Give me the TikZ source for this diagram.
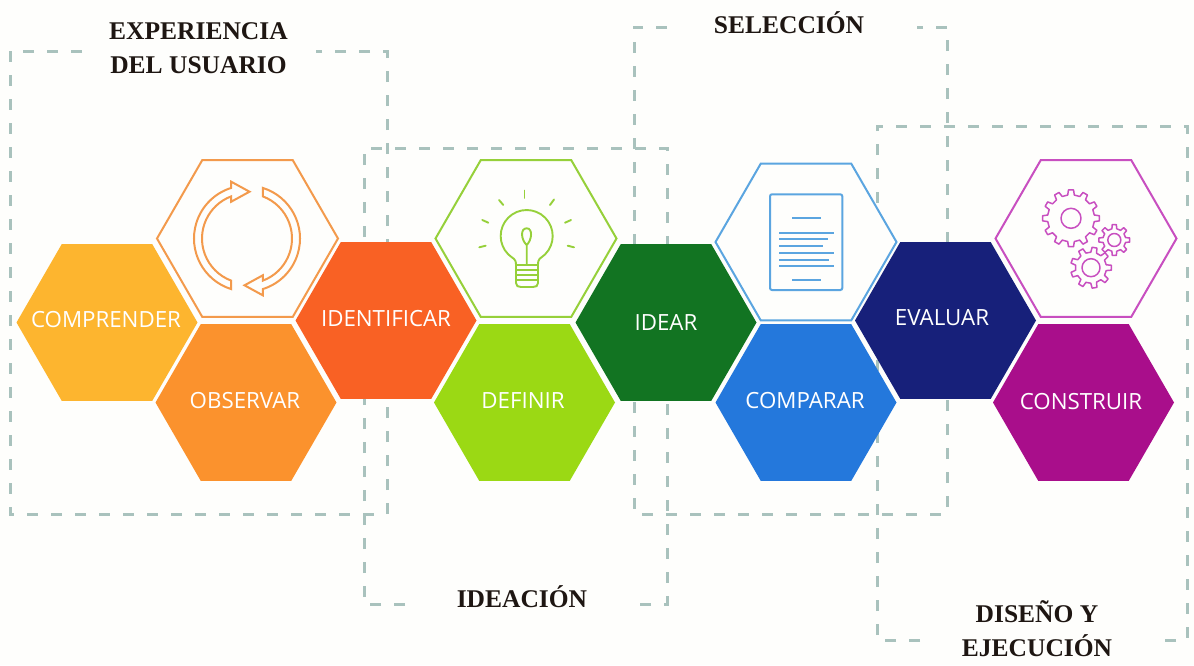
\documentclass[tikz,border=0pt]{standalone}
\usepackage{fontspec}
\setmainfont{Liberation Serif}
\newfontfamily\hexfont{Open Sans}
\usetikzlibrary{shapes.geometric}
\definecolor{paper}{HTML}{FEFEFC}
\definecolor{boxline}{HTML}{A9C2BD}
\definecolor{titleink}{HTML}{1E1612}
\definecolor{cComprender}{HTML}{FDB52F}
\definecolor{cObservar}{HTML}{FB922D}
\definecolor{cIdentificar}{HTML}{F96124}
\definecolor{cDefinir}{HTML}{9BD914}
\definecolor{cIdear}{HTML}{127422}
\definecolor{cComparar}{HTML}{2478DC}
\definecolor{cEvaluar}{HTML}{17207A}
\definecolor{cConstruir}{HTML}{A90E8B}
\definecolor{iOrange}{HTML}{F39A4C}
\definecolor{iGreen}{HTML}{96D03A}
\definecolor{iBlue}{HTML}{5BA5E0}
\definecolor{iMagenta}{HTML}{C84FC0}
\tikzset{
  hexa/.style={regular polygon,regular polygon sides=6,minimum size=181pt,inner sep=0pt,outer sep=0pt},
  hexicon/.style={hexa,draw=#1,fill=paper,line width=2pt},
  hextext/.style={text=white,font=\hexfont\fontsize{22.3}{25}\selectfont,inner sep=0pt},
  grouptext/.style={text=titleink,font=\bfseries\fontsize{25.5}{34}\selectfont,align=center,inner sep=0pt},
  groupbox/.style={boxline,line width=3pt,dash pattern=on 11pt off 13pt},
}
% one cog: centre, teeth, outer radius, root radius, hole radius
\newcommand{\cogwheel}[5]{%
  \pgfmathsetmacro{\cogstep}{360/#2}
  \draw[iMagenta,line width=1.5pt,line join=round,shift={#1}]
    ({-.27*\cogstep}:#4)
    \foreach \k in {0,...,#2}{
      -- ({\k*\cogstep-.27*\cogstep}:#4) -- ({\k*\cogstep-.17*\cogstep}:#3)
      -- ({\k*\cogstep+.17*\cogstep}:#3) -- ({\k*\cogstep+.27*\cogstep}:#4)
    } (0,0)circle(#5);
}
\begin{document}
\begin{tikzpicture}[x=1pt,y=1pt,yscale=-1]
\fill[paper](0,0)rectangle(1194,665);
\useasboundingbox(0,0)rectangle(1194,665);
% dashed groups
\draw[groupbox](82,51)--(10,51)--(10,514)--(387,514)--(387,51)--(316,51);
\draw[groupbox](405,604)--(364,604)--(364,148)--(667,148)--(667,604)--(640,604);
\draw[groupbox](667,27)--(634,27)--(634,514)--(947,514)--(947,27)--(917,27);
\draw[groupbox](920,640)--(877,640)--(877,126)--(1187,126)--(1187,640)--(1155,640);
% group titles
\node[grouptext](tExperiencia)at(198.5,48.5){EXPERIENCIA\\DEL USUARIO};
\node[grouptext](tSeleccion)at(789,23){SELECCIÓN};
\node[grouptext](tIdeacion)at(522,597){IDEACIÓN};
\node[grouptext](tDiseno)at(1037,629){DISEÑO Y\\EJECUCIÓN};
% icon hexagons
\node[hexicon=iOrange](hCycle)at(247.5,238.5){};
\node[hexicon=iGreen](hBulb)at(526,238.5){};
\node[hexicon=iBlue](hDoc)at(806,242){};
\node[hexicon=iMagenta](hGears)at(1086,238.5){};
% coloured hexagons
\node[hexa,fill=cComprender](hComprender)at(107,322.5){};
\node[hexa,fill=cObservar](hObservar)at(246,402.5){};
\node[hexa,fill=cIdentificar](hIdentificar)at(386,320.5){};
\node[hexa,fill=cDefinir](hDefinir)at(524.5,402.5){};
\node[hexa,fill=cIdear](hIdear)at(666,322.5){};
\node[hexa,fill=cComparar](hComparar)at(806,402.5){};
\node[hexa,fill=cEvaluar](hEvaluar)at(945.5,320.5){};
\node[hexa,fill=cConstruir](hConstruir)at(1083.5,402.5){};
\node[hextext](lComprender)at(106,319.5){COMPRENDER};
\node[hextext](lObservar)at(245,400.5){OBSERVAR};
\node[hextext](lIdentificar)at(386,319){IDENTIFICAR};
\node[hextext](lDefinir)at(523,400.5){DEFINIR};
\node[hextext](lIdear)at(666,322){IDEAR};
\node[hextext](lComparar)at(805,400.5){COMPARAR};
\node[hextext](lEvaluar)at(942,317.5){EVALUAR};
\node[hextext](lConstruir)at(1081,402){CONSTRUIR};
% cycle arrows
\foreach \turn in {0,180}{
  \draw[iOrange,line width=2pt,line join=miter,shift={(247,238.5)},rotate=\turn]
    (107.35:53)arc[start angle=107.35,end angle=252.65,radius=53]
    --(-15.8,-56.8)--(2.5,-46.8)--(-15.8,-36.8)--(249.4:45)
    arc[start angle=249.4,end angle=110.6,radius=45]--cycle;
}
% light bulb
\begin{scope}[iGreen,line width=1.9pt,line cap=round]
\draw(516,265)..controls(516,258)and(513,259)..(508.3,254.4)
  arc[start angle=135,end angle=405,radius=26]
  ..controls(540,259)and(538,258)..(538,265);
\draw(516,265)--(538,265);
\foreach \ly in {270,275,280}{\draw(516.5,\ly)--(537.5,\ly);}
\draw(516,265)--(516,283)..controls(516,286)and(518,287)..(521,287)--(533,287)
  ..controls(536,287)and(538,286)..(538,283)--(538,265);
\draw(526.7,265)--(526.7,245)..controls(521,240)and(520,228.3)..(526.7,228.3)
  ..controls(533,228.3)and(532,240)..(526.7,245);
\draw(524.5,190.5)--(524.5,198);
\draw(499,200)--(503.3,205);
\draw(554,199.5)--(550,205);
\draw(482.3,220)--(488.3,222.7);
\draw(571,220)--(565,222.7);
\draw(479.3,247.3)--(485.7,245.7);
\draw(574,247.3)--(567.7,245.7);
\end{scope}
% document
\draw[iBlue,line width=2pt,rounded corners=2pt](770,194.3)rectangle(842.3,290);
\foreach \ly/\lstart/\lend in {218.3/792.3/820.7,232.7/779/834,239/779/828.3,246/779/823.3,
  252.7/779/834,259.7/779/829.3,266/779/834,280/792.3/820.7}{
  \draw[iBlue,line width=2.2pt](\lstart,\ly)--(\lend,\ly);
}
% gears
\cogwheel{(1071,218.3)}{12}{28.5}{23.5}{10}
\cogwheel{(1114.3,240)}{8}{15.5}{11.5}{6.5}
\cogwheel{(1091,267.7)}{9}{20.5}{15.5}{9}
\end{tikzpicture}
\end{document}
